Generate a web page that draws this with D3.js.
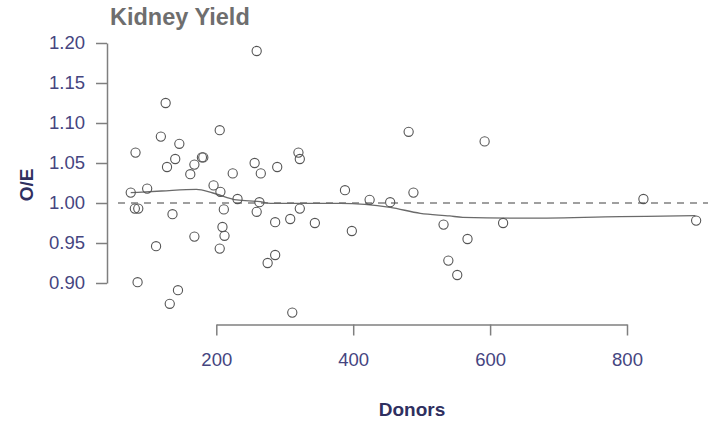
<!DOCTYPE html>
<html>
<head>
<meta charset="utf-8">
<script src="https://cdn.jsdelivr.net/npm/d3@7"></script>
<style>
  html, body { margin: 0; padding: 0; background: #fff; }
  svg { display: block; font-family: "Liberation Sans", Arial, sans-serif; }
</style>
</head>
<body>
<svg id="chart" width="710" height="422"></svg>
<script>
// ---- data ----
const donors = [75, 81, 86, 82, 85, 99, 112, 119, 126, 128, 132, 136, 140, 144, 146, 162, 168, 168, 179, 181,
  196, 205, 206, 211, 209, 212, 205, 224, 231, 256, 259, 259, 263, 265, 275, 286, 286, 289, 308, 311,
  320, 322, 322, 344, 388, 398, 424, 454, 481, 488, 532, 539, 552, 567, 592, 619, 824, 901];
const oe = [1.013, 0.993, 0.993, 1.063, 0.901, 1.018, 0.946, 1.083, 1.125, 1.045, 0.874, 0.986, 1.055, 0.891, 1.074, 1.036, 1.048, 0.958, 1.057, 1.057,
  1.022, 1.091, 1.014, 0.992, 0.970, 0.959, 0.943, 1.037, 1.005, 1.050, 1.190, 0.989, 1.001, 1.037, 0.925, 0.935, 0.976, 1.045, 0.980, 0.863,
  1.063, 1.055, 0.993, 0.975, 1.016, 0.965, 1.004, 1.001, 1.089, 1.013, 0.973, 0.928, 0.910, 0.955, 1.077, 0.975, 1.005, 0.978];
const smoothX = [75, 120, 171, 195, 230, 264, 279, 381, 454, 498, 541, 560, 644, 790, 900];
const smoothY = [1.0129, 1.0150, 1.0171, 1.0125, 1.0038, 1.0016, 0.9996, 0.9996, 0.9946, 0.9871, 0.9838, 0.9821, 0.9810, 0.9829, 0.9841];
const xTicks = [200, 400, 600, 800];
const yTicks = [0.90, 0.95, 1.00, 1.05, 1.10, 1.15, 1.20];
const refValue = 1.0;

// ---- layout ----
const svg = d3.select("#chart");
const x = d3.scaleLinear().domain([200, 800]).range([216.3, 627]);
const y = d3.scaleLinear().domain([0.90, 1.20]).range([283, 43]);
const axisColor = "#7f7f7f";
const labelColor = "#45457f";
const titleColor = "#2f2f5f";

// title
svg.append("text")
  .attr("x", 110).attr("y", 25)
  .attr("font-size", 23.5).attr("font-weight", "bold")
  .attr("fill", "#6e6e6e")
  .text("Kidney Yield");

// y axis
const yAxis = d3.axisLeft(y).tickValues(yTicks).tickFormat(d3.format(".2f"))
  .tickSize(11).tickSizeOuter(0).tickPadding(11);
const gy = svg.append("g").attr("transform", "translate(107,0)").call(yAxis);
gy.select(".domain").attr("stroke", axisColor).attr("stroke-width", 1.5);
gy.selectAll(".tick line").attr("stroke", axisColor).attr("stroke-width", 1.5);
gy.selectAll(".tick text").attr("fill", labelColor).attr("font-size", 18.5)
  .attr("font-family", "Liberation Sans, Arial, sans-serif");

// x axis
const xAxis = d3.axisBottom(x).tickValues(xTicks).tickFormat(d3.format("d"))
  .tickSize(11).tickSizeOuter(0).tickPadding(17);
const gx = svg.append("g").attr("transform", "translate(0,324.5)").call(xAxis);
gx.select(".domain").attr("stroke", axisColor).attr("stroke-width", 1.5);
gx.selectAll(".tick line").attr("stroke", axisColor).attr("stroke-width", 1.5);
gx.selectAll(".tick text").attr("fill", labelColor).attr("font-size", 18.5)
  .attr("font-family", "Liberation Sans, Arial, sans-serif");

// axis titles
svg.append("text")
  .attr("x", 412).attr("y", 416)
  .attr("text-anchor", "middle")
  .attr("font-size", 19).attr("font-weight", "bold")
  .attr("fill", titleColor)
  .text("Donors");
svg.append("text")
  .attr("transform", "translate(33,185) rotate(-90)")
  .attr("text-anchor", "middle")
  .attr("font-size", 19).attr("font-weight", "bold")
  .attr("fill", titleColor)
  .text("O/E");

// reference dashed line
svg.append("line")
  .attr("x1", 118).attr("x2", 708)
  .attr("y1", y(refValue)).attr("y2", y(refValue))
  .attr("stroke", "#808080").attr("stroke-width", 1.6)
  .attr("stroke-dasharray", "7,6");

// smooth line
const line = d3.line().x(d => x(d[0])).y(d => y(d[1])).curve(d3.curveMonotoneX);
svg.append("path")
  .datum(smoothX.map((v, i) => [v, smoothY[i]]))
  .attr("d", line)
  .attr("fill", "none")
  .attr("stroke", "#6a6a6a").attr("stroke-width", 1.3);

// points
svg.append("g").selectAll("circle")
  .data(donors.map((d, i) => [d, oe[i]]))
  .join("circle")
  .attr("cx", d => x(d[0]))
  .attr("cy", d => y(d[1]))
  .attr("r", 4.6)
  .attr("fill", "none")
  .attr("stroke", "#555")
  .attr("stroke-width", 1.1);
</script>
</body>
</html>
